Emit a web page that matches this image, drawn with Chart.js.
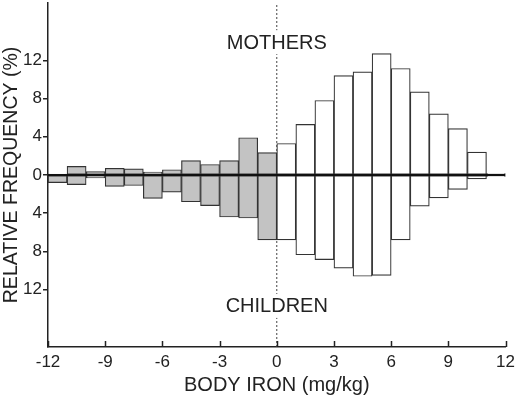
<!DOCTYPE html>
<html><head><meta charset="utf-8">
<script src="https://cdn.jsdelivr.net/npm/chart.js@4"></script>
<style>html,body{margin:0;padding:0;background:#fff}#wrap{width:520px;height:397px}</style>
</head><body><div id="wrap"><canvas id="c" width="520" height="397"></canvas></div>
<script>
// bins of width 1 mg/kg, from -12 to 12 (label = bin start)
const binStarts = [-12,-11,-10,-9,-8,-7,-6,-5,-4,-3,-2,-1,0,1,2,3,4,5,6,7,8,9,10,11];
const mothers  = [0.1,0.9,0.35,0.7,0.65,0.3,0.55,1.5,1.1,1.5,3.9,2.35,3.3,5.3,7.8,10.4,10.8,12.7,11.15,8.7,6.4,4.85,2.4,0.15];
const children = [0.8,1.0,0.3,1.2,1.1,2.45,1.8,2.8,3.2,4.4,4.5,6.8,6.8,8.35,8.85,9.75,10.6,10.5,6.8,3.25,2.4,1.5,0.4,0.15];
const xTicks = [-12,-9,-6,-3,0,3,6,9,12];
const xTickLabels = ['-12','-9','-6','-3','0','3','6','9','12'];
const yTicks = [12,8,4,0,-4,-8,-12];
const yTickLabels = ['12','8','4','0','4','8','12'];
const topLabel = 'MOTHERS', bottomLabel = 'CHILDREN';

const FONT = "'Liberation Sans', Arial, sans-serif";
const INK = '#222';
const fillFor = s => s < 0 ? '#c3c3c3' : '#ffffff';
const edgeFor = s => s >= 11 ? '#111' : '#333';

const textPlugin = {
  id: 'texts',
  afterDatasetsDraw(chart) {
    const ctx = chart.ctx, xs = chart.scales.x2, ys = chart.scales.y;
    ctx.save();
    // upward x ticks
    ctx.strokeStyle = INK; ctx.lineWidth = 1.5;
    const b = chart.chartArea.bottom;
    xTicks.forEach(v => { const px = Math.round(xs.getPixelForValue(v)) + 0.5; ctx.beginPath(); ctx.moveTo(px, b); ctx.lineTo(px, b - 6); ctx.stroke(); });
    ctx.font = '20px ' + FONT; ctx.textAlign = 'center'; ctx.textBaseline = 'middle';
    [[topLabel, 13.9], [bottomLabel, -13.7]].forEach(([t, yv]) => {
      const px = xs.getPixelForValue(0), py = ys.getPixelForValue(yv);
      const w = ctx.measureText(t).width;
      ctx.fillStyle = '#fff'; ctx.fillRect(px - w/2 - 2, py - 12, w + 4, 24);
      ctx.fillStyle = INK; ctx.fillText(t, px, py + 1);
    });
    ctx.restore();
  }
};

new Chart(document.getElementById('c'), {
  type: 'bar',
  data: {
    labels: binStarts.map(String),
    datasets: [
      { type: 'line', xAxisID: 'x2', data: [{x:0,y:-18},{x:0,y:18}], borderColor: '#444', borderWidth: 1, borderDash: [2,2], pointRadius: 0, order: 3 },
      { label: 'Mothers', data: mothers, backgroundColor: binStarts.map(fillFor), borderColor: binStarts.map(edgeFor), borderWidth: 1.2, borderSkipped: false, grouped: false, barPercentage: 1, categoryPercentage: 1, order: 2 },
      { label: 'Children', data: children.map(v => -v), backgroundColor: binStarts.map(fillFor), borderColor: binStarts.map(edgeFor), borderWidth: 1.2, borderSkipped: false, grouped: false, barPercentage: 1, categoryPercentage: 1, order: 2 },
      { type: 'line', xAxisID: 'x2', data: [{x:-12,y:0},{x:12,y:0}], borderColor: '#111', borderWidth: 2, pointRadius: 0, order: 0 }
    ]
  },
  options: {
    responsive: false, animation: false,
    layout: { padding: { top: 3, right: 11, left: 0, bottom: 0 } },
    plugins: { legend: { display: false }, tooltip: { enabled: false } },
    scales: {
      x: { type: 'category', display: false, offset: true },
      x2: {
        type: 'linear', position: 'bottom', min: -12, max: 12, offset: false,
        afterBuildTicks: s => { s.ticks = xTicks.map(v => ({ value: v })); },
        afterFit: s => { s.height = 50; },
        grid: { display: true, drawOnChartArea: false, drawTicks: false, offset: false },
        border: { display: true, color: INK, width: 1.5 },
        ticks: { color: INK, font: { family: FONT, size: 17 }, padding: 5, autoSkip: false, maxRotation: 0,
          callback: (v, i) => xTickLabels[i] },
        title: { display: true, text: 'BODY IRON (mg/kg)', color: INK, font: { family: FONT, size: 20 }, padding: { top: 8, bottom: 0 } }
      },
      y: {
        min: -18, max: 18,
        afterBuildTicks: s => { s.ticks = yTicks.map(v => ({ value: v })); },
        afterFit: s => { s.width = 48; s.paddingTop = 0; s.paddingBottom = 0; },
        grid: { display: true, drawOnChartArea: false, drawTicks: true, tickLength: 5, color: INK, lineWidth: 1.5 },
        border: { display: true, color: INK, width: 1.5 },
        ticks: { color: INK, font: { family: FONT, size: 17 }, padding: 1, callback: (v, i) => yTickLabels[i] },
        title: { display: true, text: 'RELATIVE FREQUENCY (%)', color: INK, font: { family: FONT, size: 19.5 }, padding: { top: 0, bottom: 2 } }
      }
    }
  },
  plugins: [textPlugin]
});
</script></body></html>
